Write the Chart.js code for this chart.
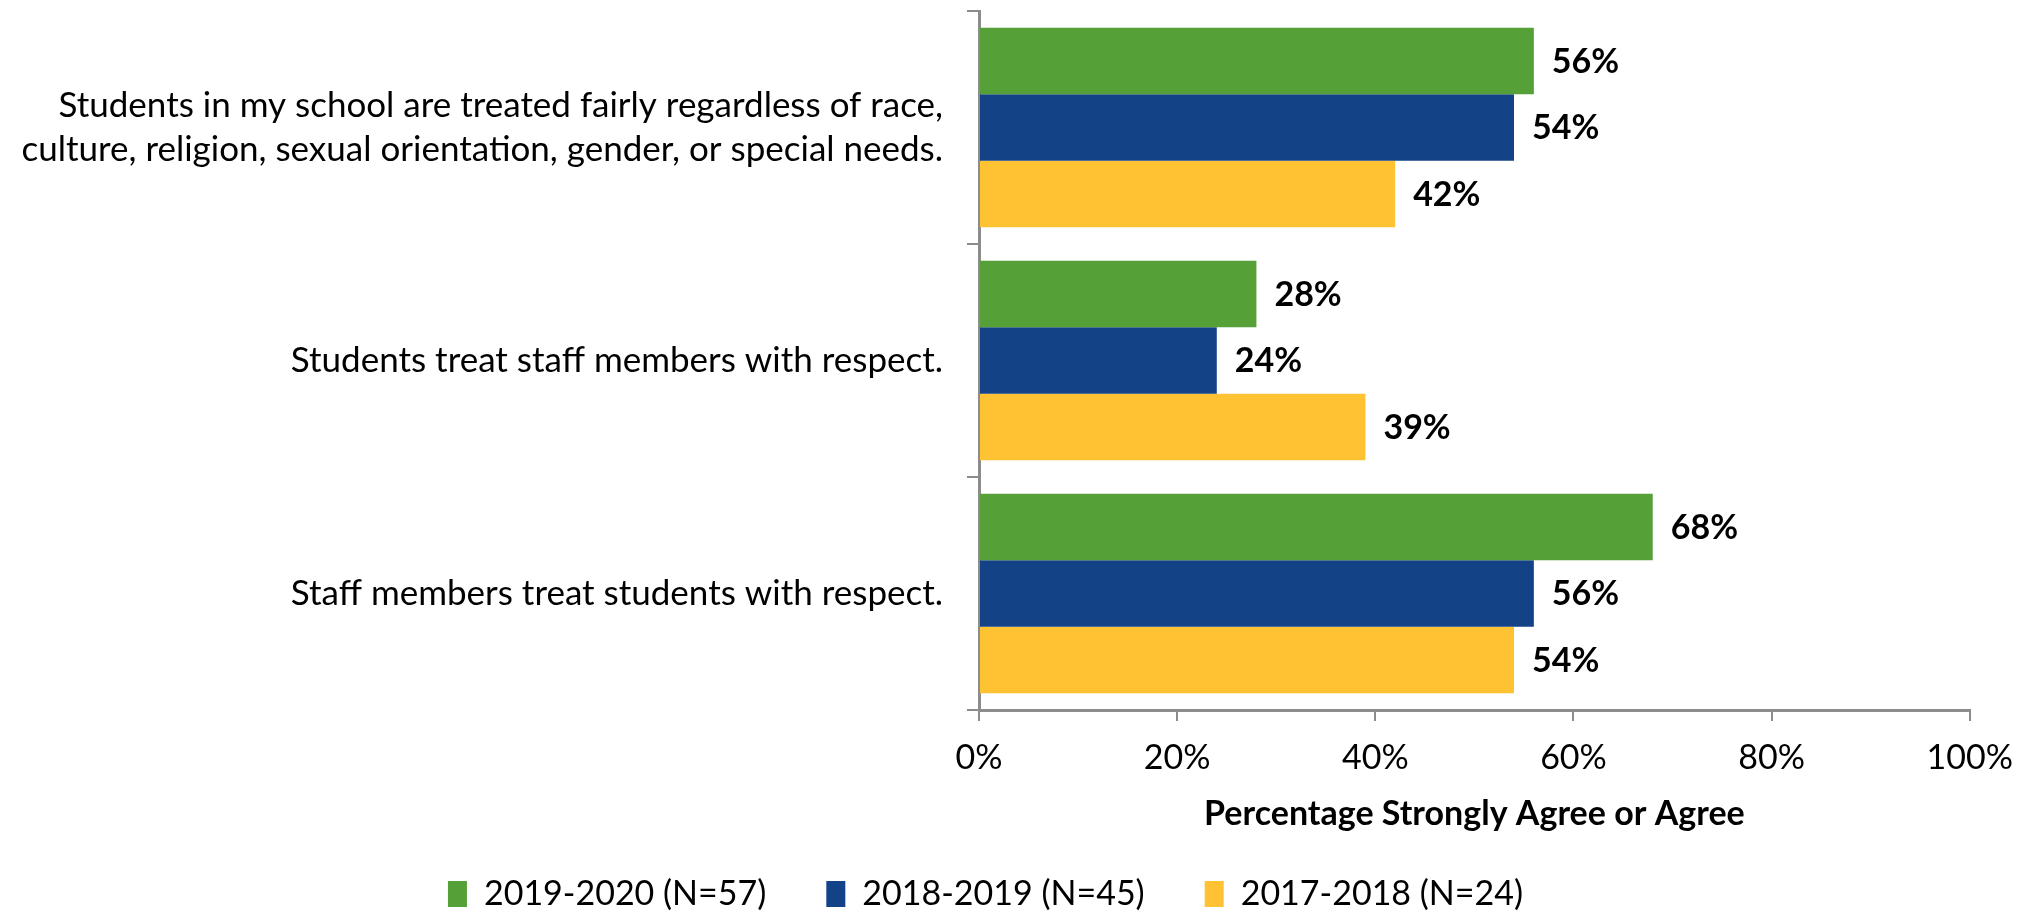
<!DOCTYPE html>
<html>
<head>
<meta charset="utf-8">
<script src="https://cdn.jsdelivr.net/npm/chart.js@4/dist/chart.umd.min.js"></script>
<style>
  html, body { margin: 0; padding: 0; background: #ffffff; }
  #wrap { width: 2030px; height: 911px; position: relative; }
</style>
</head>
<body>
<div id="wrap"><canvas id="c" width="2030" height="911"></canvas></div>
<script>
const categories = [
  ["Students in my school are treated fairly regardless of race,", "culture, religion, sexual orientation, gender, or special needs."],
  "Students treat staff members with respect.",
  "Staff members treat students with respect."
];
const seriesNames = ["2019-2020 (N=57)", "2018-2019 (N=45)", "2017-2018 (N=24)"];
const values2019_2020 = [56, 28, 68];
const values2018_2019 = [54, 24, 56];
const values2017_2018 = [42, 39, 54];
const xTickValues = [0, 20, 40, 60, 80, 100];
const xAxisTitle = "Percentage Strongly Agree or Agree";

const FONT = "Lato, 'Open Sans', sans-serif";
const colors = ["#55A037", "#134286", "#FFC233"];
const axisGray = "#8C8C8C";

const valueLabels = {
  id: 'valueLabels',
  afterDatasetsDraw(chart) {
    const ctx = chart.ctx;
    ctx.save();
    ctx.font = "bold 34px " + FONT;
    ctx.fillStyle = "#000000";
    ctx.textAlign = "left";
    ctx.textBaseline = "middle";
    chart.data.datasets.forEach((ds, i) => {
      const meta = chart.getDatasetMeta(i);
      meta.data.forEach((bar, j) => {
        ctx.fillText(ds.data[j] + "%", bar.x + 18, bar.y + 1);
      });
    });
    ctx.restore();
  }
};

new Chart(document.getElementById('c'), {
  type: 'bar',
  data: {
    labels: categories,
    datasets: [
      { label: seriesNames[0], data: values2019_2020, backgroundColor: colors[0] },
      { label: seriesNames[1], data: values2018_2019, backgroundColor: colors[1] },
      { label: seriesNames[2], data: values2017_2018, backgroundColor: colors[2] }
    ]
  },
  options: {
    indexAxis: 'y',
    responsive: false,
    animation: false,
    devicePixelRatio: 1,
    layout: { padding: { top: 11, right: 59, left: 0, bottom: -10 } },
    datasets: { bar: { categoryPercentage: 0.856, barPercentage: 1.0 } },
    scales: {
      x: {
        min: 0, max: 100,
        afterBuildTicks(scale) { scale.ticks = xTickValues.map(v => ({ value: v })); },
        afterFit(scale) { scale.height = 107; },
        grid: { drawOnChartArea: false, drawTicks: true, tickLength: 11, color: axisGray, lineWidth: 2 },
        border: { display: true, color: axisGray, width: 3 },
        ticks: {
          color: "#000000",
          font: { family: FONT, size: 34 },
          padding: 17,
          callback: (v) => v + "%"
        },
        title: {
          display: true,
          text: xAxisTitle,
          color: "#000000",
          font: { family: FONT, size: 34, weight: 'bold', lineHeight: 1 },
          padding: { top: 0, bottom: -14 }
        }
      },
      y: {
        afterFit(scale) { scale.width = 979; scale.paddingTop = 0; scale.paddingBottom = 0; },
        grid: { drawOnChartArea: false, drawTicks: true, tickLength: 12, color: axisGray, lineWidth: 2, offset: true },
        border: { display: true, color: axisGray, width: 3 },
        ticks: {
          color: "#000000",
          font: { family: FONT, size: 35, lineHeight: 1.26 },
          padding: 24,
          crossAlign: 'near'
        }
      }
    },
    plugins: {
      legend: {
        position: 'bottom',
        labels: {
          color: "#000000",
          font: { family: FONT, size: 34 },
          boxWidth: 19,
          boxHeight: 26,
          padding: 60,
          useBorderRadius: false
        }
      },
      tooltip: { enabled: false }
    }
  },
  plugins: [valueLabels]
});
</script>
</body>
</html>
